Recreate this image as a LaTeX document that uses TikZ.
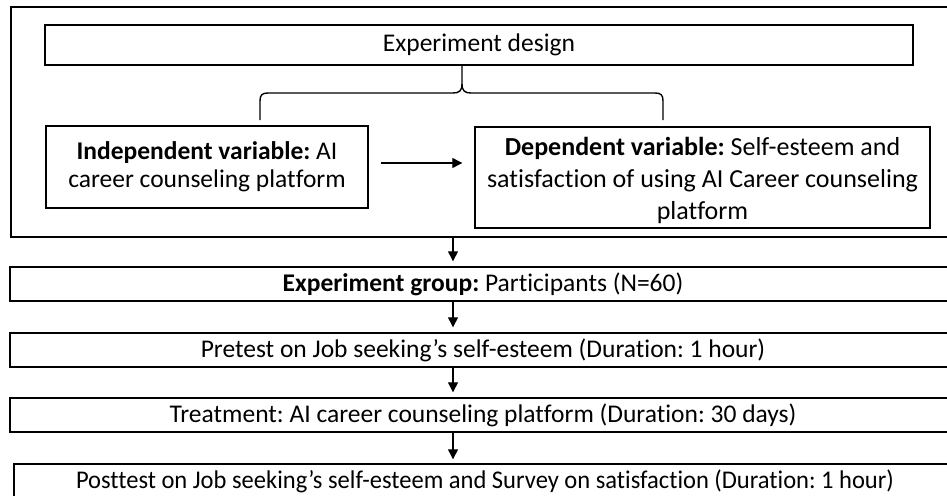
\documentclass[tikz,border=0pt]{standalone}
\usepackage{fontspec}
\setmainfont{Carlito}[Ligatures=NoCommon]
\frenchspacing
\usetikzlibrary{arrows.meta}
\begin{document}
\begin{tikzpicture}[x=1pt,y=-1pt,
  frame/.style={draw=black, line width=1.8pt, inner sep=0pt},
  box/.style={draw=black, line width=1.4pt, inner sep=0pt, align=center,
    font=\fontsize{25.5}{28}\selectfont},
  bracket/.style={draw=black, line width=1.4pt},
  flow/.style={-{Triangle[length=10pt,width=10pt]}, line width=1.3pt}]
\useasboundingbox (0,0) rectangle (947,495);

% upper frame holding the design
\node[frame, minimum width=949pt, minimum height=230pt] (outer) at (485.5,122) {};
\node[box, minimum width=868pt, minimum height=40pt] (design) at (479,45) {Experiment design};
\node[box, minimum width=322pt, minimum height=82pt] (indep) at (207,167)
  {\textbf{Independent variable:} AI\\career counseling platform};
\node[box, minimum width=455pt, minimum height=101pt,
  font=\fontsize{26}{32}\selectfont] (dep) at (702.5,177.5)
  {\rule{0pt}{25pt}\textbf{Dependent variable:} Self-esteem and\\satisfaction of using AI Career counseling\\platform};

% brace under the design box
\coordinate (tip) at (462,65);
\coordinate (bl) at (260,120);
\coordinate (br) at (663,120);
\draw[bracket] (bl) -- (260,101) .. controls (260,95) and (262,93) .. (268,93)
  -- (453,93) .. controls (459,93) and (462,91) .. (462,84) -- (tip);
\draw[bracket] (br) -- (663,101) .. controls (663,95) and (661,93) .. (655,93)
  -- (471,93) .. controls (465,93) and (462,91) .. (462,84);

\draw[flow, shorten <=12pt, shorten >=12pt]
  ([yshift=4pt]indep.east) -- ([yshift=4pt]indep.east -| dep.west);

% procedure steps
\node[box, minimum width=946pt, minimum height=34pt] (group) at (483,284)
  {\textbf{Experiment group:} Participants (N=60)};
\node[box, minimum width=946pt, minimum height=34pt] (pre) at (483,350)
  {Pretest on Job seeking’s self-esteem (Duration: 1 hour)};
\node[box, minimum width=946pt, minimum height=34pt] (treat) at (483,415)
  {Treatment: AI career counseling platform (Duration: 30 days)};
\node[box, minimum width=942pt, minimum height=34pt] (post) at (485,481)
  {\scalebox{0.962}[1]{Posttest on Job seeking’s self-esteem and Survey on satisfaction (Duration: 1 hour)}};

\coordinate (ax) at (453,0);
\draw[flow, shorten >=5pt] (outer.south -| ax) -- (group.north -| ax);
\draw[flow, shorten >=5pt] (group.south -| ax) -- (pre.north -| ax);
\draw[flow, shorten >=5pt] (pre.south -| ax) -- (treat.north -| ax);
\draw[flow, shorten >=4pt] (treat.south -| ax) -- (post.north -| ax);
\end{tikzpicture}
\end{document}
